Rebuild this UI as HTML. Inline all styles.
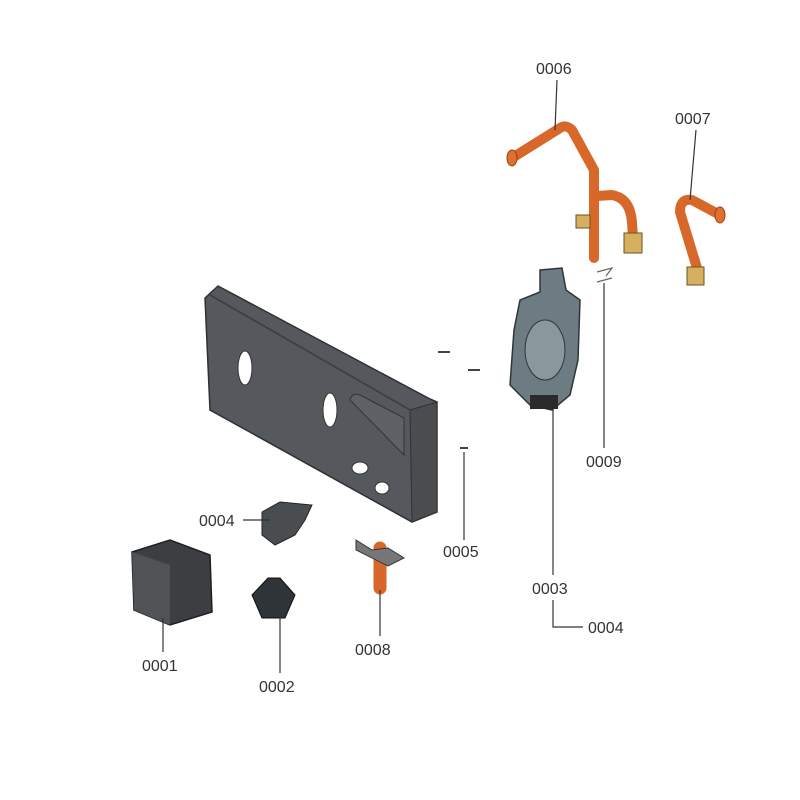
<!DOCTYPE html>
<html><head><meta charset="utf-8"><style>
html,body{margin:0;padding:0;background:#fff;}
svg{display:block;}
text{font-family:"Liberation Sans",sans-serif;font-size:16px;fill:#333;}
</style></head><body>
<svg width="800" height="800" viewBox="0 0 800 800" xmlns="http://www.w3.org/2000/svg">
<rect width="800" height="800" fill="#fff"/>
<!-- frame -->
<polygon points="205,298 218,286 430,399 437,402 437,512 412,522 210,410" fill="#55585c" stroke="#2e3033" stroke-width="1.5"/>
<polygon points="410,410 437,402 437,512 412,522" fill="#4a4c50" stroke="#2e3033"/>
<line x1="210" y1="295" x2="410" y2="410" stroke="#3a3c3f" stroke-width="1.5"/>
<ellipse cx="245" cy="368" rx="7" ry="17" fill="#fff" stroke="#333"/>
<ellipse cx="330" cy="410" rx="7" ry="17" fill="#fff" stroke="#333"/>
<ellipse cx="360" cy="468" rx="8" ry="6" fill="#fff" stroke="#333"/>
<ellipse cx="382" cy="488" rx="7" ry="6" fill="#fff" stroke="#333"/>
<path d="M350,400 Q352,392 360,395 L404,418 L404,455 Z" fill="#5e6165" stroke="#333"/>
<!-- pipes -->
<g fill="none" stroke="#d8682a" stroke-width="10" stroke-linecap="round" stroke-linejoin="round">
<path d="M512,158 L560,128 Q566,124 572,130 L594,170 L594,258"/>
<path d="M597,196 L612,195 Q630,198 632,222 L633,238"/>
<path d="M697,268 L680,212 Q680,198 692,200 L720,215"/>
<path d="M380,548 L380,588" stroke-width="13"/>
</g>
<ellipse cx="512" cy="158" rx="5" ry="8" fill="#e07030" stroke="#a04010"/>
<ellipse cx="720" cy="215" rx="5" ry="8" fill="#e07030" stroke="#a04010"/>
<rect x="624" y="233" width="18" height="20" fill="#d6b060" stroke="#6a5320"/>
<rect x="687" y="267" width="17" height="18" fill="#d6b060" stroke="#6a5320"/>
<rect x="576" y="215" width="14" height="13" fill="#d6b060" stroke="#6a5320"/>
<polygon points="356,540 372,550 388,548 404,558 388,566 356,550" fill="#777" stroke="#333"/>
<!-- clip 0009 -->
<path d="M597,272 L612,268 L606,276 M597,282 L612,278" stroke="#666" stroke-width="1.2" fill="none"/>
<!-- hydraulic block 0003 -->
<path d="M540,270 L562,268 L566,290 L580,300 L578,360 L570,395 L552,410 L530,405 L510,385 L514,330 L520,300 L540,292 Z" fill="#6d7c82" stroke="#2e3538" stroke-width="1.5"/>
<ellipse cx="545" cy="350" rx="20" ry="30" fill="#8a989c" stroke="#2e3538"/>
<rect x="530" y="395" width="28" height="14" fill="#2a2a2a"/>
<!-- screws -->
<g stroke="#444" stroke-width="2"><line x1="438" y1="352" x2="450" y2="352"/><line x1="468" y1="370" x2="480" y2="370"/><line x1="460" y1="448" x2="468" y2="448"/></g>
<!-- pump 0001 -->
<polygon points="132,552 170,540 210,555 212,612 170,625 134,610" fill="#3c3e41" stroke="#1e1f21" stroke-width="1.5"/>
<polygon points="132,552 170,565 170,625 134,610" fill="#505356"/>
<!-- 0002 -->
<polygon points="252,595 268,578 280,578 295,595 285,618 262,618" fill="#2f3438" stroke="#111"/>
<!-- 0004 valve -->
<polygon points="262,512 280,502 312,505 305,520 295,535 275,545 262,535" fill="#4a4d50" stroke="#222"/>
<!-- leader lines -->
<g stroke="#333" stroke-width="1.2" fill="none">
<line x1="557" y1="80" x2="555" y2="130"/>
<line x1="696" y1="130" x2="690" y2="200"/>
<line x1="604" y1="283" x2="604" y2="448"/>
<line x1="464" y1="452" x2="464" y2="540"/>
<line x1="553" y1="410" x2="553" y2="575"/>
<polyline points="553,600 553,627 583,627"/>
<line x1="243" y1="520" x2="270" y2="520"/>
<line x1="163" y1="618" x2="163" y2="652"/>
<line x1="280" y1="615" x2="280" y2="673"/>
<line x1="380" y1="590" x2="380" y2="636"/>
</g>
<text x="536" y="74">0006</text>
<text x="675" y="124">0007</text>
<text x="586" y="467">0009</text>
<text x="443" y="557">0005</text>
<text x="532" y="594">0003</text>
<text x="588" y="633">0004</text>
<text x="199" y="526">0004</text>
<text x="142" y="671">0001</text>
<text x="259" y="692">0002</text>
<text x="355" y="655">0008</text>
</svg>
</body></html>
